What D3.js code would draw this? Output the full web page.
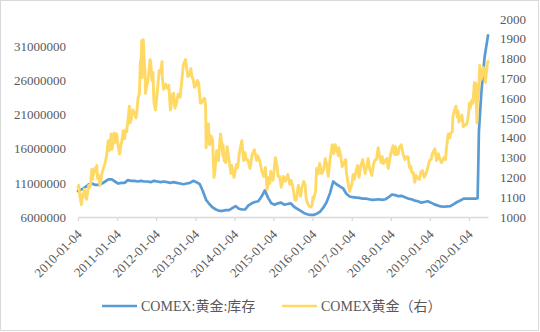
<!DOCTYPE html>
<html>
<head>
<meta charset="utf-8">
<script src="https://cdn.jsdelivr.net/npm/d3@7/dist/d3.min.js"></script>
<style>
  html, body { margin: 0; padding: 0; background: #fff; }
  svg { display: block; }
  text { font-family: "Liberation Serif", "Noto Sans CJK SC", serif; fill: #595959; }
</style>
</head>
<body>
<svg id="chart" width="540" height="332"></svg>
<script>
// COMEX gold inventory (troy oz), monthly
const inventory = [
  ["2010-01-04",9.8e6],["2010-02-15",10.1e6],["2010-03-15",10.4e6],["2010-04-15",10.8e6],["2010-05-15",10.9e6],["2010-06-15",10.7e6],
  ["2010-07-15",10.7e6],["2010-08-15",10.9e6],["2010-09-15",11.2e6],["2010-10-15",11.5e6],["2010-11-15",11.5e6],["2010-12-15",11.2e6],
  ["2011-01-15",10.9e6],["2011-02-15",11.0e6],["2011-03-15",11.0e6],["2011-04-15",11.4e6],["2011-05-15",11.3e6],["2011-06-15",11.3e6],
  ["2011-07-15",11.2e6],["2011-08-15",11.3e6],["2011-09-15",11.2e6],["2011-10-15",11.2e6],["2011-11-15",11.1e6],["2011-12-15",11.3e6],
  ["2012-01-15",11.2e6],["2012-02-15",11.1e6],["2012-03-15",11.2e6],["2012-04-15",11.1e6],["2012-05-15",11.0e6],["2012-06-15",11.1e6],
  ["2012-07-15",11.0e6],["2012-08-15",10.9e6],["2012-09-15",10.8e6],["2012-10-15",10.9e6],["2012-11-15",11.0e6],["2012-12-15",11.3e6],
  ["2013-01-15",11.1e6],["2013-02-15",10.8e6],["2013-03-15",9.8e6],["2013-04-15",8.5e6],["2013-05-15",7.9e6],["2013-06-15",7.4e6],
  ["2013-07-15",7.1e6],["2013-08-15",6.9e6],["2013-09-15",6.9e6],["2013-10-15",7.0e6],["2013-11-15",7.0e6],["2013-12-15",7.3e6],
  ["2014-01-15",7.6e6],["2014-02-15",7.2e6],["2014-03-15",7.1e6],["2014-04-15",7.1e6],["2014-05-15",7.7e6],["2014-06-15",8.0e6],
  ["2014-07-15",8.2e6],["2014-08-15",8.3e6],["2014-09-15",9.0e6],["2014-10-15",9.9e6],["2014-11-15",8.8e6],["2014-12-15",8.0e6],
  ["2015-01-15",7.8e6],["2015-02-15",8.0e6],["2015-03-15",8.1e6],["2015-04-15",7.8e6],["2015-05-15",7.9e6],["2015-06-15",8.0e6],
  ["2015-07-15",7.5e6],["2015-08-15",7.2e6],["2015-09-15",6.9e6],["2015-10-15",6.6e6],["2015-11-15",6.4e6],["2015-12-15",6.3e6],
  ["2016-01-15",6.3e6],["2016-02-15",6.5e6],["2016-03-15",6.8e6],["2016-04-15",7.4e6],["2016-05-15",8.2e6],["2016-06-15",9.5e6],
  ["2016-07-15",11.2e6],["2016-08-15",10.8e6],["2016-09-15",10.5e6],["2016-10-15",10.2e6],["2016-11-15",9.4e6],["2016-12-15",9.0e6],
  ["2017-01-15",8.9e6],["2017-02-15",8.85e6],["2017-03-15",8.8e6],["2017-04-15",8.7e6],["2017-05-15",8.7e6],["2017-06-15",8.6e6],
  ["2017-07-15",8.5e6],["2017-08-15",8.55e6],["2017-09-15",8.6e6],["2017-10-15",8.5e6],["2017-11-15",8.6e6],["2017-12-15",8.9e6],
  ["2018-01-15",9.3e6],["2018-02-15",9.2e6],["2018-03-15",9.05e6],["2018-04-15",9.1e6],["2018-05-15",8.9e6],["2018-06-15",8.7e6],
  ["2018-07-15",8.6e6],["2018-08-15",8.4e6],["2018-09-15",8.3e6],["2018-10-15",8.1e6],["2018-11-15",8.2e6],["2018-12-15",8.3e6],
  ["2019-01-15",8.1e6],["2019-02-15",7.85e6],["2019-03-15",7.7e6],["2019-04-15",7.55e6],["2019-05-15",7.5e6],["2019-06-15",7.55e6],
  ["2019-07-15",7.6e6],["2019-08-15",7.9e6],["2019-09-15",8.2e6],["2019-10-15",8.4e6],["2019-11-15",8.7e6],["2019-12-15",8.7e6],
  ["2020-01-15",8.7e6],["2020-02-15",8.7e6],["2020-03-15",8.7e6],["2020-03-25",8.75e6],["2020-03-30",12.5e6],["2020-04-06",18.5e6],
  ["2020-04-30",24.5e6],["2020-05-29",29.4e6],["2020-06-30",32.6e6]
];

// COMEX gold price (USD/oz), right axis
const goldPrice = [
  ["2010-01-04",1150],["2010-01-11",1160],["2010-01-20",1110],["2010-01-28",1085],["2010-02-05",1062],["2010-02-16",1115],
  ["2010-02-25",1105],["2010-03-03",1140],["2010-03-16",1105],["2010-03-25",1090],["2010-04-05",1130],["2010-04-15",1160],
  ["2010-04-26",1150],["2010-05-04",1175],["2010-05-13",1240],["2010-05-20",1190],["2010-06-01",1230],["2010-06-08",1245],
  ["2010-06-15",1230],["2010-06-28",1260],["2010-07-06",1195],["2010-07-15",1210],["2010-07-28",1160],["2010-08-10",1200],
  ["2010-08-20",1230],["2010-09-01",1250],["2010-09-15",1275],["2010-09-28",1310],["2010-10-06",1350],["2010-10-14",1385],
  ["2010-10-20",1335],["2010-11-01",1360],["2010-11-09",1420],["2010-11-16",1340],["2010-11-26",1370],["2010-12-07",1425],
  ["2010-12-15",1375],["2010-12-31",1420],
  ["2011-01-10",1375],["2011-01-27",1318],["2011-02-08",1360],["2011-02-18",1385],["2011-03-01",1435],["2011-03-15",1395],
  ["2011-03-24",1440],["2011-04-04",1430],["2011-04-15",1485],["2011-04-29",1560],["2011-05-05",1475],["2011-05-16",1495],
  ["2011-06-01",1540],["2011-06-15",1525],["2011-06-30",1500],["2011-07-11",1550],["2011-07-19",1600],["2011-08-01",1625],
  ["2011-08-10",1790],["2011-08-16",1785],["2011-08-22",1890],["2011-08-25",1705],["2011-08-31",1830],["2011-09-06",1895],
  ["2011-09-15",1780],["2011-09-22",1740],["2011-09-26",1625],["2011-10-04",1655],["2011-10-17",1680],["2011-10-26",1720],
  ["2011-11-08",1795],["2011-11-15",1780],["2011-11-25",1690],["2011-12-05",1730],["2011-12-14",1580],["2011-12-29",1540],
  ["2012-01-10",1605],["2012-01-20",1665],["2012-02-01",1740],["2012-02-15",1730],["2012-02-28",1785],["2012-03-01",1710],
  ["2012-03-14",1645],["2012-03-23",1660],["2012-04-02",1670],["2012-04-13",1650],["2012-05-01",1665],["2012-05-16",1540],
  ["2012-05-25",1570],["2012-06-05",1620],["2012-06-15",1625],["2012-06-28",1550],["2012-07-12",1575],["2012-07-27",1620],
  ["2012-08-15",1605],["2012-08-31",1690],["2012-09-14",1770],["2012-10-04",1795],["2012-10-15",1750],["2012-10-26",1710],
  ["2012-11-09",1730],["2012-11-16",1715],["2012-11-23",1750],["2012-12-03",1710],["2012-12-14",1695],["2012-12-28",1655],
  ["2013-01-11",1665],["2013-01-23",1690],["2013-02-05",1675],["2013-02-20",1575],["2013-03-01",1575],["2013-03-15",1590],
  ["2013-04-01",1600],["2013-04-10",1560],["2013-04-15",1350],["2013-04-25",1465],["2013-05-06",1470],["2013-05-17",1365],
  ["2013-05-30",1410],["2013-06-14",1390],["2013-06-27",1200],["2013-07-05",1225],["2013-07-22",1335],["2013-08-07",1285],
  ["2013-08-27",1420],["2013-09-10",1365],["2013-09-18",1310],["2013-09-19",1365],["2013-10-01",1285],["2013-10-15",1275],
  ["2013-10-28",1355],["2013-11-15",1285],["2013-12-03",1220],["2013-12-10",1260],["2013-12-31",1200],
  ["2014-01-15",1240],["2014-01-24",1265],["2014-02-04",1250],["2014-02-18",1320],["2014-03-14",1385],["2014-03-31",1285],
  ["2014-04-14",1325],["2014-04-24",1290],["2014-05-09",1290],["2014-05-30",1245],["2014-06-19",1315],["2014-07-10",1340],
  ["2014-07-31",1285],["2014-08-08",1310],["2014-08-29",1285],["2014-09-15",1235],["2014-10-06",1205],["2014-10-21",1250],
  ["2014-11-06",1140],["2014-11-21",1200],["2014-12-01",1170],["2014-12-09",1230],["2014-12-31",1185],
  ["2015-01-22",1300],["2015-02-04",1265],["2015-02-17",1205],["2015-03-03",1205],["2015-03-17",1150],["2015-04-06",1205],
  ["2015-04-23",1180],["2015-05-18",1215],["2015-06-05",1165],["2015-06-18",1185],["2015-07-01",1160],["2015-07-24",1085],
  ["2015-08-05",1085],["2015-08-24",1160],["2015-09-14",1105],["2015-09-25",1145],["2015-10-14",1180],["2015-10-27",1160],
  ["2015-11-06",1090],["2015-11-18",1070],["2015-12-03",1055],["2015-12-17",1050],["2015-12-31",1060],
  ["2016-01-07",1100],["2016-01-15",1090],["2016-02-01",1130],["2016-02-11",1245],["2016-02-26",1220],["2016-03-10",1270],
  ["2016-03-28",1220],["2016-04-15",1235],["2016-05-02",1295],["2016-05-13",1270],["2016-05-30",1205],["2016-06-15",1290],
  ["2016-07-06",1365],["2016-07-20",1320],["2016-08-02",1365],["2016-08-17",1345],["2016-09-01",1310],["2016-09-06",1350],
  ["2016-09-20",1315],["2016-10-07",1255],["2016-10-20",1265],["2016-11-08",1290],["2016-11-15",1225],["2016-12-01",1170],
  ["2016-12-15",1130],
  ["2017-01-03",1160],["2017-01-17",1215],["2017-01-27",1190],["2017-02-13",1230],["2017-02-27",1260],["2017-03-14",1200],
  ["2017-03-28",1255],["2017-04-17",1290],["2017-05-09",1220],["2017-05-25",1255],["2017-06-06",1295],["2017-06-20",1245],
  ["2017-07-10",1210],["2017-07-28",1270],["2017-08-11",1290],["2017-08-23",1290],["2017-09-08",1350],["2017-09-20",1310],
  ["2017-10-06",1275],["2017-10-16",1305],["2017-10-27",1270],["2017-11-15",1285],["2017-11-27",1295],["2017-12-12",1245],
  ["2017-12-29",1305],
  ["2018-01-12",1335],["2018-01-25",1360],["2018-02-08",1315],["2018-02-16",1355],["2018-03-01",1315],["2018-03-15",1320],
  ["2018-03-23",1350],["2018-04-11",1365],["2018-04-30",1315],["2018-05-15",1290],["2018-05-31",1305],["2018-06-14",1305],
  ["2018-06-28",1250],["2018-07-10",1255],["2018-07-19",1225],["2018-08-01",1225],["2018-08-16",1175],["2018-08-28",1210],
  ["2018-09-14",1195],["2018-09-28",1190],["2018-10-11",1225],["2018-10-26",1235],["2018-11-13",1200],["2018-11-30",1220],
  ["2018-12-14",1245],["2018-12-31",1285],
  ["2019-01-15",1290],["2019-01-31",1325],["2019-02-20",1345],["2019-03-07",1285],["2019-03-25",1320],["2019-04-05",1295],
  ["2019-04-23",1275],["2019-05-14",1300],["2019-05-30",1290],["2019-06-07",1345],["2019-06-25",1420],["2019-07-09",1400],
  ["2019-07-19",1425],["2019-08-01",1430],["2019-08-07",1505],["2019-08-15",1525],["2019-08-23",1540],["2019-09-04",1560],
  ["2019-09-17",1505],["2019-09-24",1535],["2019-10-01",1480],["2019-10-15",1490],["2019-10-30",1515],["2019-11-12",1455],
  ["2019-11-22",1465],["2019-12-09",1465],["2019-12-20",1480],["2019-12-31",1520],
  ["2020-01-08",1575],["2020-01-15",1550],["2020-01-31",1590],["2020-02-10",1575],["2020-02-24",1680],["2020-02-28",1585],
  ["2020-03-09",1675],["2020-03-19",1475],["2020-03-24",1660],["2020-04-01",1590],["2020-04-14",1765],["2020-04-21",1690],
  ["2020-05-01",1700],["2020-05-18",1755],["2020-05-29",1750],["2020-06-05",1680],["2020-06-15",1730],["2020-06-24",1775],
  ["2020-06-30",1785]
];

const xTickDates = ["2010-01-04","2011-01-04","2012-01-04","2013-01-04","2014-01-04","2015-01-04",
                    "2016-01-04","2017-01-04","2018-01-04","2019-01-04","2020-01-04"];
const leftTicks = [6000000, 11000000, 16000000, 21000000, 26000000, 31000000];
const rightTicks = [1000, 1100, 1200, 1300, 1400, 1500, 1600, 1700, 1800, 1900, 2000];
const seriesNames = ["COMEX:黄金:库存", "COMEX黄金（右）"];
const colors = ["#5b9bd5", "#ffd966"];

const parse = d3.timeParse("%Y-%m-%d");
const fmt = d3.timeFormat("%Y-%m-%d");
const svg = d3.select("#chart");

// outer frame
svg.append("rect").attr("x", 0.5).attr("y", 0.5).attr("width", 538).attr("height", 330)
  .attr("fill", "#fff").attr("stroke", "#d9d9d9");

const plot = { left: 78, right: 488, top: 19, bottom: 217 };

const x = d3.scaleTime()
  .domain([parse("2010-01-04"), parse("2020-06-30")])
  .range([plot.left, plot.right]);
const yL = d3.scaleLinear().domain([6000000, 35000000]).range([plot.bottom, plot.top]);
const yR = d3.scaleLinear().domain([1000, 2000]).range([plot.bottom, plot.top]);

// left axis labels
const gL = svg.append("g").attr("transform", `translate(${plot.left - 12},0)`)
  .call(d3.axisLeft(yL).tickValues(leftTicks).tickSize(0).tickPadding(0).tickFormat(d3.format("d")));
gL.select(".domain").remove();
gL.selectAll("text").attr("font-size", 13).style("font-family", null).attr("fill", "#595959");

// right axis labels
const gR = svg.append("g").attr("transform", `translate(${plot.right + 12},0)`)
  .call(d3.axisRight(yR).tickValues(rightTicks).tickSize(0).tickPadding(0).tickFormat(d3.format("d")));
gR.select(".domain").remove();
gR.selectAll("text").attr("font-size", 13).style("font-family", null).attr("fill", "#595959");

// bottom axis
const gX = svg.append("g").attr("transform", `translate(0,${plot.bottom})`)
  .call(d3.axisBottom(x).tickValues(xTickDates.map(parse)).tickSize(4).tickSizeOuter(0).tickFormat(fmt));
gX.select(".domain").attr("stroke", "#d9d9d9").attr("stroke-width", 1.3);
gX.selectAll(".tick line").attr("stroke", "#d9d9d9").attr("stroke-width", 1.3);
gX.selectAll("text")
  .attr("font-size", 13).style("font-family", null).attr("fill", "#595959")
  .attr("text-anchor", "end")
  .attr("dy", "0.35em")
  .attr("transform", "translate(1,15) rotate(-45)")
  .attr("y", 0).attr("x", 0);

// series
const lineL = d3.line().x(d => x(parse(d[0]))).y(d => yL(d[1]));
const lineR = d3.line().x(d => x(parse(d[0]))).y(d => yR(d[1]));

svg.append("path").datum(inventory).attr("d", lineL)
  .attr("fill", "none").attr("stroke", colors[0]).attr("stroke-width", 2.7)
  .attr("stroke-linejoin", "round").attr("stroke-linecap", "round");
svg.append("path").datum(goldPrice).attr("d", lineR)
  .attr("fill", "none").attr("stroke", colors[1]).attr("stroke-width", 2.9)
  .attr("stroke-linejoin", "round").attr("stroke-linecap", "round");

// legend
const legendItems = [{ x: 102, name: seriesNames[0], color: colors[0] },
                     { x: 282, name: seriesNames[1], color: colors[1] }];
const lg = svg.append("g").selectAll("g").data(legendItems).join("g")
  .attr("transform", d => `translate(${d.x},306)`);
lg.append("line").attr("x1", 0).attr("x2", 35).attr("y1", 0).attr("y2", 0)
  .attr("stroke", d => d.color).attr("stroke-width", 2.7);
lg.append("text").attr("x", 39).attr("y", 0).attr("dy", "0.35em")
  .attr("font-size", 14).text(d => d.name);
</script>
</body>
</html>
